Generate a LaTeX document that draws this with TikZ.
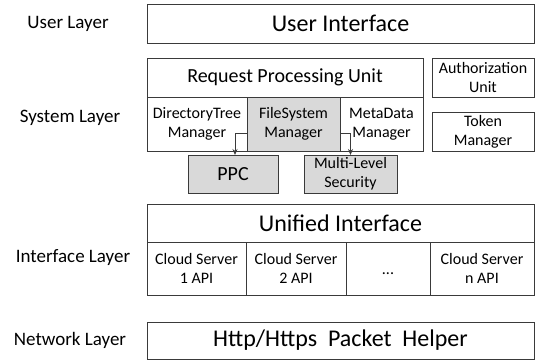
\documentclass[tikz,border=0pt]{standalone}
\usepackage{fontspec}
\setmainfont{Carlito}
\usetikzlibrary{arrows.meta}
\definecolor{boxgray}{HTML}{D9D9D9}
\definecolor{edge}{HTML}{3A3A3A}
\tikzset{
  box/.style={draw=edge, line width=0.9pt, inner sep=0pt, outer sep=0pt, anchor=north west, align=center},
  big/.style={font=\fontsize{24}{29}\selectfont},
  mid/.style={font=\fontsize{20}{24}\selectfont},
  small/.style={font=\fontsize{16}{19}\selectfont},
  lab/.style={font=\fontsize{19}{23}\selectfont, inner sep=0pt},
  shade/.style={fill=boxgray},
  arr/.style={draw=edge, line width=0.9pt, -{Stealth[length=6pt,width=5pt]}}
}
\begin{document}
\begin{tikzpicture}[x=1pt,y=-1pt]
\useasboundingbox (0,0) rectangle (536,361);
% labels
\node[lab] (userl) at (68,24) {User Layer};
\node[lab] (sysl) at (70,118) {System Layer};
\node[lab] (intl) at (73,258) {Interface Layer};
\node[lab] (netl) at (70,340) {Network Layer};
% user layer
\node[box,big,minimum width=387pt,minimum height=39pt] (ui) at (147,4) {User Interface};
% system layer
\node[box,mid,minimum width=276pt,minimum height=39pt] (rpu) at (147,58) {Request Processing Unit};
\node[box,small,minimum width=100pt,minimum height=54pt] (dtm) at (147,97) {DirectoryTree\\Manager};
\node[box,small,shade,minimum width=93pt,minimum height=54pt] (fsm) at (247,97) {FileSystem\\Manager};
\node[box,small,minimum width=83pt,minimum height=54pt] (mdm) at (340,97) {MetaData\\Manager};
\node[box,small,minimum width=102pt,minimum height=39pt] (auth) at (432,58) {Authorization\\Unit};
\node[box,small,minimum width=102pt,minimum height=39pt] (tok) at (432,112) {Token\\Manager};
\node[box,mid,shade,minimum width=90pt,minimum height=38pt] (ppc) at (188,155) {PPC};
\node[box,small,shade,minimum width=93pt,minimum height=38pt] (mls) at (304,155) {Multi-Level\\Security};
\draw[arr] ([yshift=-9pt]fsm.west) -| ([xshift=2pt]ppc.north);
\draw[arr] ([yshift=-9pt]fsm.east) -| (mls.north);
% interface layer
\node[box,big,minimum width=387pt,minimum height=38pt] (uni) at (147,204) {Unified Interface};
\node[box,small,minimum width=99pt,minimum height=53pt] (cs1) at (147,242) {Cloud Server\\1 API};
\node[box,small,minimum width=100pt,minimum height=53pt] (cs2) at (246,242) {Cloud Server\\2 API};
\node[box,small,minimum width=84pt,minimum height=53pt,text height=12pt,text depth=0pt] (dots) at (346,242) {...};
\node[box,small,minimum width=104pt,minimum height=53pt] (csn) at (430,242) {Cloud Server\\n API};
% network layer
\node[box,big,minimum width=387pt,minimum height=37pt] (http) at (147,322) {Http/Https\ \ Packet\ \ Helper};
\end{tikzpicture}
\end{document}
